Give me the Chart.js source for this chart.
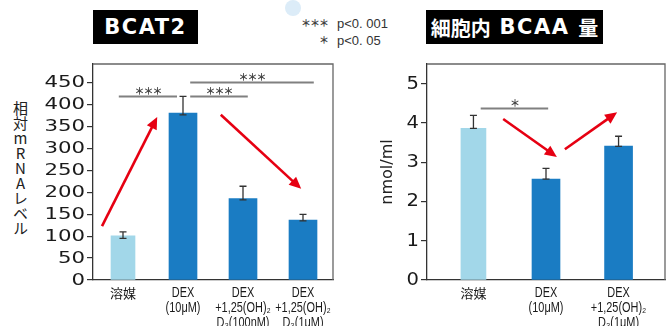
<!DOCTYPE html>
<html lang="ja">
<head>
<meta charset="utf-8">
<title>BCAT2 / 細胞内 BCAA 量</title>
<script src="https://cdn.jsdelivr.net/npm/chart.js@4.4.1/dist/chart.umd.min.js"></script>
<style>
  html, body { margin: 0; padding: 0; background: #fff; }
  body { position: relative; width: 667px; height: 326px; overflow: hidden;
         font-family: "Noto Sans CJK JP", sans-serif; color: #222; }
  canvas { position: absolute; top: 0; }
  #bcat2 { left: 0; }
  #bcaa { left: 340px; }
  .panel-title { position: absolute; top: 10px; height: 34px; background: #000; color: #fff;
                 font-weight: bold; display: flex; align-items: center; justify-content: center;
                 white-space: nowrap; }
  .panel-title .lat { font-family: "DejaVu Sans", sans-serif; font-weight: bold; }
  .panel-title .cjk { font-family: "Noto Sans CJK JP", sans-serif; font-weight: bold; font-size: 20px; }
  .dot { position: absolute; left: 285px; top: 0; width: 16px; height: 16px; border-radius: 50%;
         background: #dcecf8; }
  .key { position: absolute; font-size: 13px; line-height: 14px; color: #333; }
  .key .stars { position: absolute; right: 0; top: 0; font-family: "Noto Sans CJK JP", sans-serif;
                font-size: 10px; letter-spacing: -1px; color: #444; font-weight: bold; }
  .key .txt { font-family: "Liberation Sans", Arial, sans-serif; }
  .ytitle-v { position: absolute; left: 12px; top: 101px; writing-mode: vertical-rl;
              text-orientation: upright; font-size: 15px; line-height: 16px; color: #222;
              font-family: "Noto Sans CJK JP", sans-serif; }
</style>
</head>
<body>
<div class="panel-title" style="left:93px;width:105px;">
  <span class="lat" style="font-size:21px;letter-spacing:1.5px;">BCAT2</span>
</div>
<div class="panel-title" style="left:426px;width:177px;">
  <span class="cjk">細胞内</span><span class="lat" style="font-size:21px;letter-spacing:1.5px;">&nbsp;BCAA&nbsp;</span><span class="cjk">量</span>
</div>
<div class="dot"></div>
<div class="key" style="left:298px;top:16px;width:30px;height:14px;"><span class="stars">＊＊＊</span></div>
<div class="key" style="left:337px;top:16px;"><span class="txt">p&lt;0. 001</span></div>
<div class="key" style="left:298px;top:33px;width:30px;height:14px;"><span class="stars">＊</span></div>
<div class="key" style="left:337px;top:33px;"><span class="txt">p&lt;0. 05</span></div>
<div class="ytitle-v">相対mRNAレベル</div>

<canvas id="bcat2" width="340" height="326" style="width:340px;height:326px;"></canvas>
<canvas id="bcaa" width="327" height="326" style="width:327px;height:326px;"></canvas>

<script>
// ---- BCAT2 relative mRNA level ----
const bcat2Labels = [
  ['溶媒'],
  ['DEX', '(10μM)'],
  ['DEX', '+1,25(OH)₂', 'D₃(100nM)'],
  ['DEX', '+1,25(OH)₂', 'D₃(1μM)']
];
const bcat2Values  = [101, 381, 186, 137];
const bcat2ErrLow  = [95, 377, 183, 135];
const bcat2ErrHigh = [110, 419, 214, 150];
const bcat2Ticks   = [0, 50, 100, 150, 200, 250, 300, 350, 400, 450];
// significance brackets: [from category, to category, level, stars]
const bcat2Sig = [
  [-0.07, 0.90, 419, '＊＊＊'],
  [1.12, 2.08, 419, '＊＊＊'],
  [1.12, 3.18, 452, '＊＊＊']
];
// trend arrows: [x0, y0, x1, y1] in category / value units
const bcat2Arrows = [
  [-0.35, 123, 0.57, 372],
  [1.63, 377, 2.97, 208]
];

// ---- intracellular BCAA (nmol/ml) ----
const bcaaLabels = [
  ['溶媒'],
  ['DEX', '(10μM)'],
  ['DEX', '+1,25(OH)₂', 'D₃(1μM)']
];
const bcaaValues  = [3.86, 2.57, 3.41];
const bcaaErrLow  = [3.86, 2.57, 3.40];
const bcaaErrHigh = [4.19, 2.84, 3.66];
const bcaaTicks   = [0, 1, 2, 3, 4, 5];
const bcaaSig = [
  [0.10, 1.03, 4.38, '＊']
];
const bcaaArrows = [
  [0.41, 4.10, 1.15, 3.13],
  [1.26, 3.33, 1.98, 4.27]
];

const LIGHT = '#a2d7e9';
const DARK = '#1a7cc3';
const RED = '#e60012';
const CJK_RE = /[\u3000-\u9fff]/;

const decorPlugin = {
  id: 'decor',
  afterDatasetsDraw(chart, args, opts) {
    const ctx = chart.ctx;
    const xs = chart.scales.x, ys = chart.scales.y;
    const a = chart.chartArea;
    ctx.save();
    // plot frame (top and right edges)
    ctx.strokeStyle = '#666';
    ctx.lineWidth = 1.3;
    ctx.beginPath();
    ctx.moveTo(a.left, a.top);
    ctx.lineTo(a.right, a.top);
    ctx.lineTo(a.right, a.bottom);
    ctx.stroke();

    // error bars
    ctx.strokeStyle = '#333';
    ctx.lineWidth = 1.3;
    opts.low.forEach((lo, i) => {
      const x = xs.getPixelForValue(i);
      const yl = ys.getPixelForValue(lo), yh = ys.getPixelForValue(opts.high[i]);
      ctx.beginPath();
      ctx.moveTo(x, yl); ctx.lineTo(x, yh);
      ctx.moveTo(x - 3.5, yl); ctx.lineTo(x + 3.5, yl);
      ctx.moveTo(x - 3.5, yh); ctx.lineTo(x + 3.5, yh);
      ctx.stroke();
    });

    // significance brackets
    opts.sig.forEach(([f, t, v, s]) => {
      const x0 = xs.getPixelForValue(f), x1 = xs.getPixelForValue(t);
      const y = Math.round(ys.getPixelForValue(v)) + 0.5;
      ctx.strokeStyle = '#808080';
      ctx.lineWidth = 2;
      ctx.beginPath(); ctx.moveTo(x0, y); ctx.lineTo(x1, y); ctx.stroke();
      ctx.fillStyle = '#444';
      ctx.font = 'bold 10px "Noto Sans CJK JP"';
      ctx.textAlign = 'center';
      ctx.textBaseline = 'middle';
      if (ctx.letterSpacing !== undefined) ctx.letterSpacing = '-1px';
      ctx.fillText(s, (x0 + x1) / 2, y - 5);
      if (ctx.letterSpacing !== undefined) ctx.letterSpacing = '0px';
    });

    // trend arrows
    opts.arrows.forEach(([vx0, vy0, vx1, vy1]) => {
      const x0 = xs.getPixelForValue(vx0), y0 = ys.getPixelForValue(vy0);
      const x1 = xs.getPixelForValue(vx1), y1 = ys.getPixelForValue(vy1);
      const ang = Math.atan2(y1 - y0, x1 - x0);
      const hl = 12, hw = 5.5;
      const bx = x1 - hl * Math.cos(ang), by = y1 - hl * Math.sin(ang);
      ctx.strokeStyle = RED;
      ctx.fillStyle = RED;
      ctx.lineWidth = 2.6;
      ctx.beginPath(); ctx.moveTo(x0, y0); ctx.lineTo(bx + 2 * Math.cos(ang), by + 2 * Math.sin(ang)); ctx.stroke();
      ctx.beginPath();
      ctx.moveTo(x1, y1);
      ctx.lineTo(bx + hw * Math.sin(ang), by - hw * Math.cos(ang));
      ctx.lineTo(bx - hw * Math.sin(ang), by + hw * Math.cos(ang));
      ctx.closePath();
      ctx.fill();
    });

    // value labels on the y axis, wide lettering
    ctx.fillStyle = '#1a1a1a';
    ctx.textAlign = 'right';
    ctx.textBaseline = 'middle';
    ys.ticks.forEach((t) => {
      const y = ys.getPixelForValue(t.value);
      ctx.save();
      ctx.font = opts.yFont;
      ctx.translate(a.left - 8, y + 0.5);
      ctx.scale(opts.yStretch, 1);
      ctx.fillText(String(t.value), 0, 0);
      ctx.restore();
    });

    // category labels under the x axis, condensed lettering
    ctx.fillStyle = '#1a1a1a';
    ctx.textAlign = 'center';
    ctx.textBaseline = 'middle';
    opts.labels.forEach((lines, i) => {
      const x = xs.getPixelForValue(i);
      lines.forEach((line, k) => {
        const y = a.bottom + 13 + k * 15;
        ctx.save();
        if (CJK_RE.test(line)) {
          ctx.font = '13px "Noto Sans CJK JP"';
          ctx.fillText(line, x, y);
        } else {
          ctx.font = '14px "Liberation Sans", sans-serif';
          ctx.translate(x, y);
          ctx.scale(0.78, 1);
          ctx.fillText(line, 0, 0);
        }
        ctx.restore();
      });
    });
    ctx.restore();
  }
};

function yScale(max, ticks, width, title) {
  const s = {
    min: 0, max: max,
    afterBuildTicks: (sc) => { sc.ticks = ticks.map(v => ({ value: v })); },
    afterFit: (sc) => { sc.width = width; },
    grid: { drawOnChartArea: false, drawTicks: true, tickLength: 6, tickColor: '#333', lineWidth: 1.2 },
    border: { display: true, color: '#333', width: 1.3 },
    ticks: { display: false, autoSkip: false }
  };
  if (title) s.title = title;
  return s;
}

const xAxisCommon = {
  afterFit: (sc) => { sc.height = 46; },
  offset: false,
  grid: { display: false, drawTicks: false, offset: false },
  border: { display: true, color: '#333', width: 1.3 },
  ticks: { display: false }
};

// BCAT2 chart (category x axis, labels drawn by the decor plugin)
new Chart(document.getElementById('bcat2'), {
  type: 'bar',
  data: {
    labels: bcat2Labels.map(l => l.join(' ')),
    datasets: [
      { data: bcat2Values.map((v, i) => i === 0 ? v : null), backgroundColor: LIGHT, barThickness: 24 },
      { data: bcat2Values.map((v, i) => i > 0 ? v : null), backgroundColor: DARK, barThickness: 28 }
    ]
  },
  options: {
    responsive: false, animation: false, devicePixelRatio: 1,
    layout: { padding: { left: 0, right: 7, top: 64, bottom: 0 } },
    datasets: { bar: { grouped: false } },
    plugins: {
      legend: { display: false }, tooltip: { enabled: false },
      decor: { low: bcat2ErrLow, high: bcat2ErrHigh, sig: bcat2Sig, arrows: bcat2Arrows,
               labels: bcat2Labels, yFont: '16px "DejaVu Sans"', yStretch: 1.33 }
    },
    scales: {
      x: Object.assign({}, xAxisCommon, { type: 'category', offset: true }),
      y: yScale(493, bcat2Ticks, 93, null)
    }
  },
  plugins: [decorPlugin]
});

// BCAA chart (linear x axis so the bars sit with wider side margins)
new Chart(document.getElementById('bcaa'), {
  type: 'bar',
  data: {
    datasets: [
      { data: [{ x: 0, y: bcaaValues[0] }], backgroundColor: LIGHT, barThickness: 25 },
      { data: bcaaValues.slice(1).map((v, i) => ({ x: i + 1, y: v })), backgroundColor: DARK, barThickness: 28 }
    ]
  },
  options: {
    responsive: false, animation: false, devicePixelRatio: 1,
    layout: { padding: { left: 0, right: 2, top: 64, bottom: 0 } },
    datasets: { bar: { grouped: false } },
    plugins: {
      legend: { display: false }, tooltip: { enabled: false },
      decor: { low: bcaaErrLow, high: bcaaErrHigh, sig: bcaaSig, arrows: bcaaArrows,
               labels: bcaaLabels, yFont: '17px "DejaVu Sans"', yStretch: 1.15 }
    },
    scales: {
      x: Object.assign({}, xAxisCommon, { type: 'linear', min: -0.64, max: 2.64 }),
      y: yScale(5.5, bcaaTicks, 87, {
        display: true, text: 'nmol/ml', color: '#222',
        font: { family: '"DejaVu Sans", sans-serif', size: 16 },
        padding: { top: 38, bottom: 0 }
      })
    }
  },
  plugins: [decorPlugin]
});
</script>
</body>
</html>
